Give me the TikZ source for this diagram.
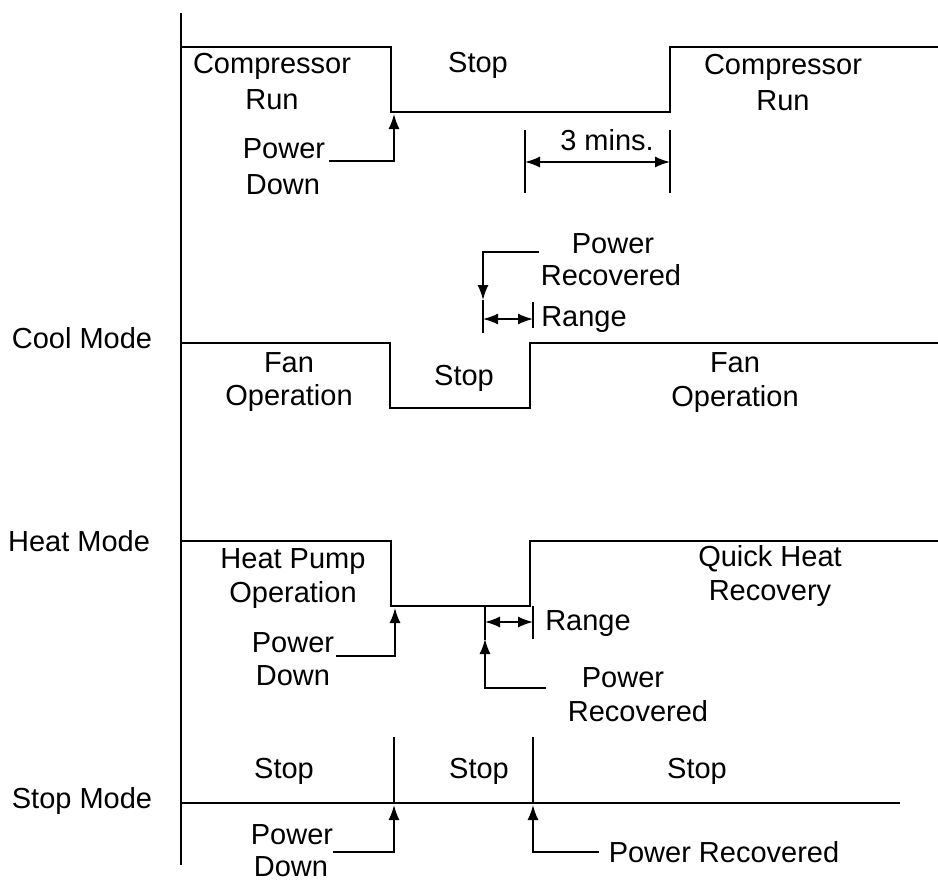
\documentclass[tikz,border=0pt]{standalone}
\usepackage{fontspec}
\setmainfont{Liberation Sans}
\usetikzlibrary{arrows.meta}
\begin{document}
\begin{tikzpicture}[x=1pt,y=-1pt, line width=1.6pt,
  lbl/.style={inner sep=0pt, font=\fontsize{29}{34}\selectfont},
  arr/.style={-{Latex[length=15pt,width=11pt]}},
  darr/.style={{Latex[length=15pt,width=11pt]}-{Latex[length=15pt,width=11pt]}}]
\useasboundingbox (0,0) rectangle (938,884);
% axis
\coordinate (axT) at (181,13);
\coordinate (axB) at (181,865);
\draw (axT) -- (axB);

% ---------- compressor ----------
\coordinate (c0) at (181,47);
\coordinate (c1) at (391,47);
\coordinate (c2) at (391,112);
\coordinate (c3) at (670,112);
\coordinate (c4) at (670,47);
\coordinate (c5) at (938,47);
\draw (c0) -- (c1) -- (c2) -- (c3) -- (c4) -- (c5);
\node[lbl] (cr1a) at (272,66) {Compressor};
\node[lbl] (cr1b) at (272,100) {Run};
\node[lbl] (cstop) at (478,65) {Stop};
\node[lbl] (cr2a) at (783,67) {Compressor};
\node[lbl] (cr2b) at (783,101) {Run};
\node[lbl] (pd1a) at (284,149) {Power};
\node[lbl] (pd1b) at (283,185) {Down};
\coordinate (pd1s) at (329,161);
\coordinate (pd1m) at (394,161);
\coordinate (pd1e) at (394,114);
\draw[arr] (pd1s) -- (pd1m) -- (pd1e);
\coordinate (t1a) at (525,130);
\coordinate (t1b) at (525,193);
\coordinate (t2a) at (670,130);
\coordinate (t2b) at (670,193);
\draw (t1a) -- (t1b);
\draw (t2a) -- (t2b);
\coordinate (m1) at (525,162);
\coordinate (m2) at (670,162);
\draw[darr] (m1) -- (m2);
\node[lbl] (mins) at (607,140) {3 mins.};

% ---------- cool range ----------
\node[lbl] (pr1a) at (613,244) {Power};
\node[lbl] (pr1b) at (611,275) {Recovered};
\coordinate (pr1s) at (539,252);
\coordinate (pr1m) at (483,252);
\coordinate (pr1e) at (483,300);
\draw[arr] (pr1s) -- (pr1m) -- (pr1e);
\coordinate (r1a) at (483,300);
\coordinate (r1b) at (483,333);
\draw (r1a) -- (r1b);
\coordinate (r1c) at (533,302);
\coordinate (r1d) at (533,328);
\draw (r1c) -- (r1d);
\coordinate (r1l) at (483,319);
\coordinate (r1r) at (533,319);
\draw[darr] (r1l) -- (r1r);
\node[lbl] (rng1) at (584,320) {Range};

% ---------- cool mode ----------
\node[lbl] (cool) at (82,338) {Cool Mode};
\coordinate (f0) at (181,343);
\coordinate (f1) at (390,343);
\coordinate (f2) at (390,408);
\coordinate (f3) at (530,408);
\coordinate (f4) at (530,343);
\coordinate (f5) at (938,343);
\draw (f0) -- (f1) -- (f2) -- (f3) -- (f4) -- (f5);
\node[lbl] (fan1a) at (289,363) {Fan};
\node[lbl] (fan1b) at (289,398) {Operation};
\node[lbl] (fstop) at (464,378) {Stop};
\node[lbl] (fan2a) at (735,363) {Fan};
\node[lbl] (fan2b) at (735,399) {Operation};

% ---------- heat mode ----------
\node[lbl] (heat) at (79,541) {Heat Mode};
\coordinate (h0) at (181,541);
\coordinate (h1) at (391,541);
\coordinate (h2) at (391,606);
\coordinate (h3) at (530,606);
\coordinate (h4) at (530,541);
\coordinate (h5) at (938,541);
\draw (h0) -- (h1) -- (h2) -- (h3) -- (h4) -- (h5);
\node[lbl] (hp1) at (293,562) {Heat Pump};
\node[lbl] (hp2) at (293,595) {Operation};
\node[lbl] (qh1) at (770,559) {Quick Heat};
\node[lbl] (qh2) at (770,594) {Recovery};
\node[lbl] (pd2a) at (293,643) {Power};
\node[lbl] (pd2b) at (293,676) {Down};
\coordinate (pd2s) at (336,656);
\coordinate (pd2m) at (395,656);
\coordinate (pd2e) at (395,608);
\draw[arr] (pd2s) -- (pd2m) -- (pd2e);
\coordinate (r2a) at (485,606);
\coordinate (r2b) at (485,640);
\draw (r2a) -- (r2b);
\coordinate (r2c) at (533,606);
\coordinate (r2d) at (533,639);
\draw (r2c) -- (r2d);
\coordinate (r2l) at (485,622);
\coordinate (r2r) at (533,622);
\draw[darr] (r2l) -- (r2r);
\node[lbl] (rng2) at (588,624) {Range};
\coordinate (pr2s) at (546,688);
\coordinate (pr2m) at (485,688);
\coordinate (pr2e) at (485,639);
\draw[arr] (pr2s) -- (pr2m) -- (pr2e);
\node[lbl] (pr2a) at (623,678) {Power};
\node[lbl] (pr2b) at (638,711) {Recovered};

% ---------- stop mode ----------
\node[lbl] (stopm) at (82,801) {Stop Mode};
\coordinate (s0) at (181,803);
\coordinate (s1) at (900,803);
\draw (s0) -- (s1);
\coordinate (st1a) at (394,737);
\coordinate (st1b) at (394,803);
\coordinate (st2a) at (533,737);
\coordinate (st2b) at (533,803);
\draw (st1a) -- (st1b);
\draw (st2a) -- (st2b);
\node[lbl] (sa) at (284,771) {Stop};
\node[lbl] (sb) at (479,771) {Stop};
\node[lbl] (sc) at (697,771) {Stop};
\node[lbl] (pd3a) at (292,835) {Power};
\node[lbl] (pd3b) at (291,867) {Down};
\coordinate (pd3s) at (333,852);
\coordinate (pd3m) at (394,852);
\coordinate (pd3e) at (394,805);
\draw[arr] (pd3s) -- (pd3m) -- (pd3e);
\coordinate (pr3s) at (599,852);
\coordinate (pr3m) at (533,852);
\coordinate (pr3e) at (533,805);
\draw[arr] (pr3s) -- (pr3m) -- (pr3e);
\node[lbl] (pr3) at (724,852) {Power Recovered};
\end{tikzpicture}
\end{document}
